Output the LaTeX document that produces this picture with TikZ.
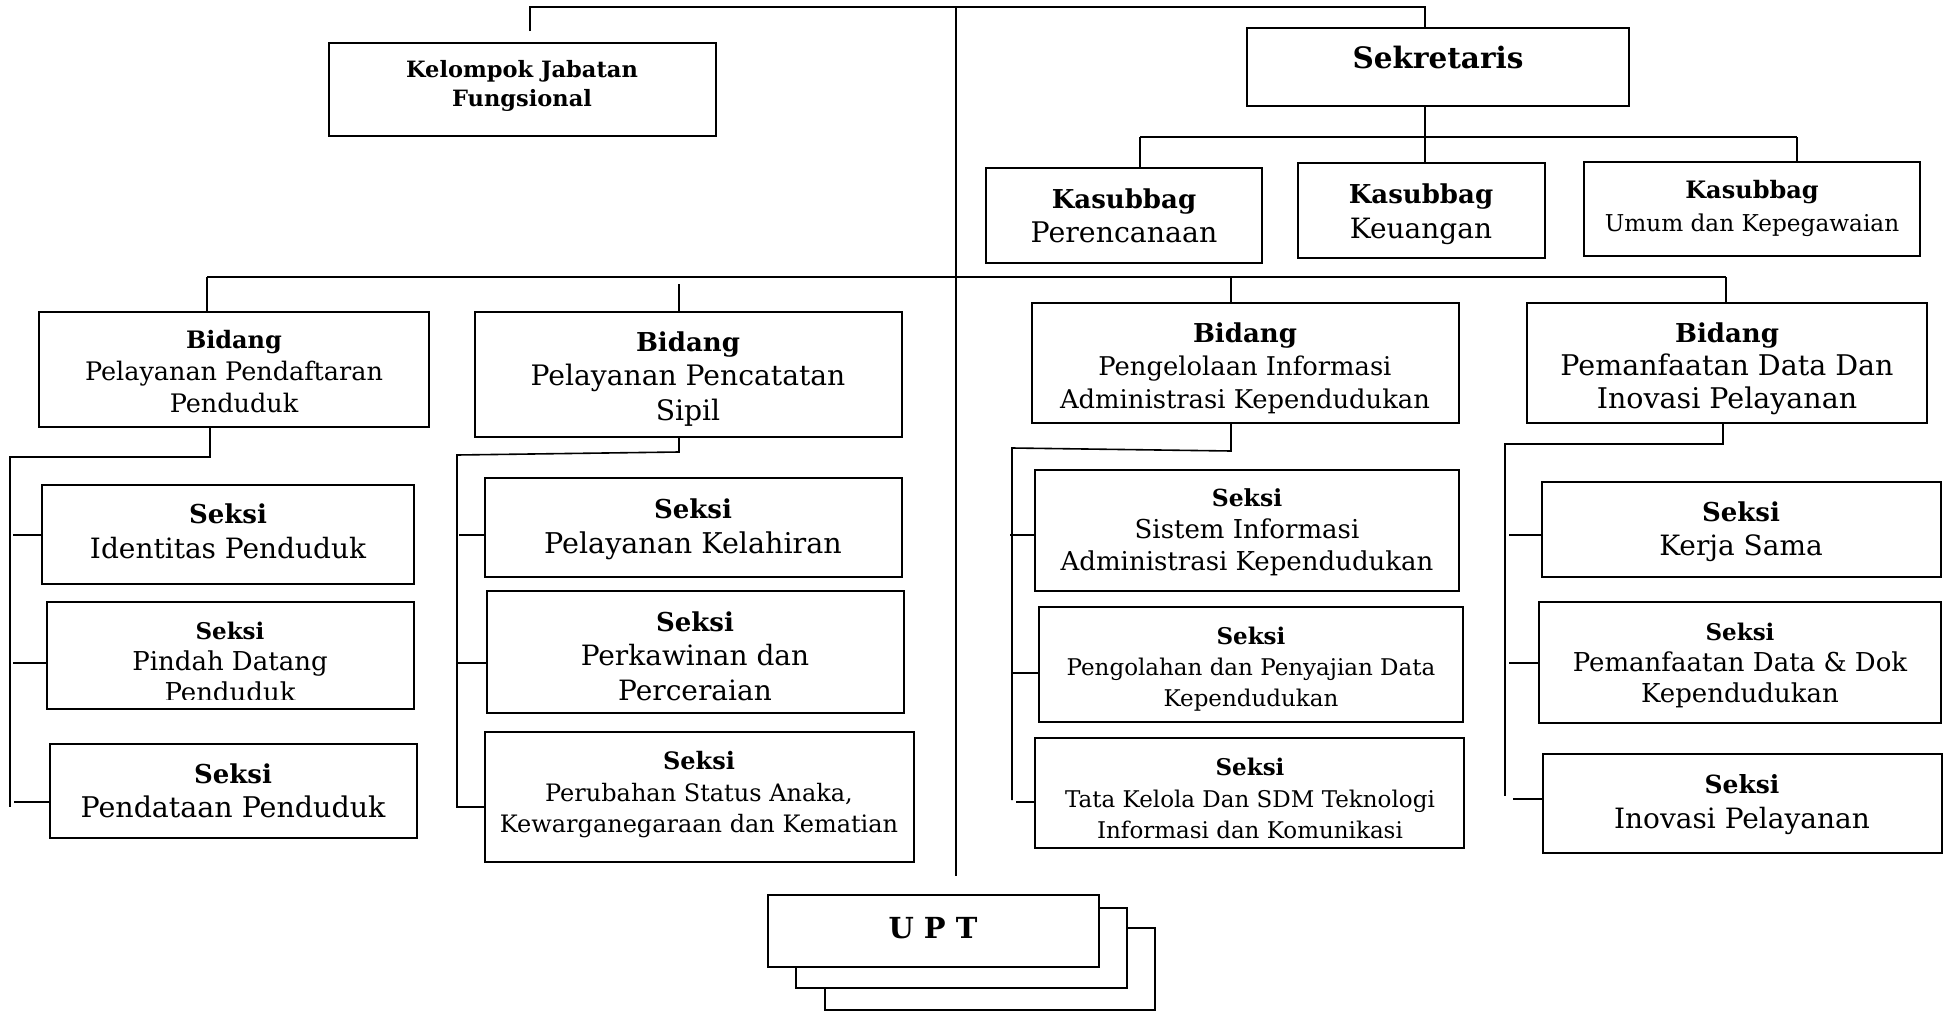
\documentclass[tikz,border=0pt]{standalone}
\usepackage{fontspec}
\setmainfont{DejaVu Serif}
\usetikzlibrary{fit}
\newcommand\fs[2]{\fontsize{#1}{#2}\selectfont}
\begin{document}
\begin{tikzpicture}[x=0.5pt,y=-0.5pt,
  box/.style={draw, line width=1.1pt, inner sep=0pt, rectangle},
  ubox/.style={box, fill=white},
  txt/.style={align=center, inner sep=0pt, execute at begin node=\strut, execute at end node=\strut},
  conn/.style={line width=0.8pt}]
\useasboundingbox (0,0) rectangle (1945,1012);

% ---- boxes ----
\node[box, fit={(329,43) (716,136)}] (kjf) {};
\node[box, fit={(1247,28) (1629,106)}] (sek) {};
\node[box, fit={(986,168) (1262,263)}] (per) {};
\node[box, fit={(1298,163) (1545,258)}] (keu) {};
\node[box, fit={(1584,162) (1920,256)}] (umu) {};
\node[box, fit={(39,312) (429,427)}] (b1) {};
\node[box, fit={(475,312) (902,437)}] (b2) {};
\node[box, fit={(1032,303) (1459,423)}] (b3) {};
\node[box, fit={(1527,303) (1927,423)}] (b4) {};
\node[box, fit={(42,485) (414,584)}] (s11) {};
\node[box, fit={(47,602) (414,709)}] (s12) {};
\node[box, fit={(50,744) (417,838)}] (s13) {};
\node[box, fit={(485,478) (902,577)}] (s21) {};
\node[box, fit={(487,591) (904,713)}] (s22) {};
\node[box, fit={(485,732) (914,862)}] (s23) {};
\node[box, fit={(1035,470) (1459,591)}] (s31) {};
\node[box, fit={(1039,607) (1463,722)}] (s32) {};
\node[box, fit={(1035,738) (1464,848)}] (s33) {};
\node[box, fit={(1542,482) (1941,577)}] (s41) {};
\node[box, fit={(1539,602) (1941,723)}] (s42) {};
\node[box, fit={(1543,754) (1942,853)}] (s43) {};
\node[ubox, fit={(825,928) (1155,1010)}] (u3) {};
\node[ubox, fit={(796,908) (1127,988)}] (u2) {};
\node[ubox, fit={(768,895) (1099,967)}] (u1) {};

% ---- texts ----
\node[txt, font=\bfseries\fs{11.25}{14.5}] (kjft) at (522,88) {Kelompok Jabatan\\Fungsional};
\node[txt, font=\bfseries\fs{14.75}{17}] (sekt) at (1438,62) {Sekretaris};
\node[txt, font=\fs{14.2}{17}] (pert) at (1124,221) {{\bfseries\fs{13}{17}Kasubbag}\\Perencanaan};
\node[txt, font=\fs{14}{17.5}] (keut) at (1421,216) {{\bfseries\fs{13}{17.5}Kasubbag}\\Keuangan};
\node[txt, font=\fs{11.6}{16.5}] (umut) at (1752,211) {{\bfseries\fs{12}{16.5}Kasubbag}\\Umum dan Kepegawaian};

\node[txt, font=\fs{12.75}{16}] (b1t) at (234,376) {{\bfseries\fs{12}{16}Bidang}\\Pelayanan Pendaftaran\\Penduduk};
\node[txt, font=\fs{14.1}{17.25}] (b2t) at (688,381) {{\bfseries\fs{13}{17.25}Bidang}\\Pelayanan Pencatatan\\Sipil};
\node[txt, font=\fs{12.9}{16.5}] (b3t) at (1245,371) {{\bfseries\fs{13}{16.5}Bidang}\\Pengelolaan Informasi\\Administrasi Kependudukan};
\node[txt, font=\fs{14.25}{16.5}] (b4t) at (1727,371) {{\bfseries\fs{13}{16.5}Bidang}\\Pemanfaatan Data Dan\\Inovasi Pelayanan};

\node[txt, font=\fs{14}{17.5}] (s11t) at (228,536) {{\bfseries\fs{13}{17.5}Seksi}\\Identitas Penduduk};
\begin{scope}
\clip (47,602) rectangle (414,699);
\node[txt, font=\fs{13}{15.5}] (s12t) at (230,666) {{\bfseries\fs{11.5}{15.5}Seksi}\\Pindah Datang\\Penduduk};
\end{scope}
\node[txt, font=\fs{14.25}{17}] (s13t) at (233,796) {{\bfseries\fs{13}{17}Seksi}\\Pendataan Penduduk};

\node[txt, font=\fs{14.3}{17.5}] (s21t) at (693,531) {{\bfseries\fs{13}{17.5}Seksi}\\Pelayanan Kelahiran};
\node[txt, font=\fs{14}{17.25}] (s22t) at (695,661) {{\bfseries\fs{13}{17.25}Seksi}\\Perkawinan dan\\Perceraian};
\node[txt, font=\fs{12}{15.75}] (s23t) at (699,797) {{\bfseries\fs{12}{15.75}Seksi}\\Perubahan Status Anaka,\\Kewarganegaraan dan Kematian};

\node[txt, font=\fs{13}{16}] (s31t) at (1247,534) {{\bfseries\fs{11.75}{16}Seksi}\\Sistem Informasi\\Administrasi Kependudukan};
\node[txt, font=\fs{11.5}{15.5}] (s32t) at (1251,671) {{\bfseries\fs{11.5}{15.5}Seksi}\\Pengolahan dan Penyajian Data\\Kependudukan};
\node[txt, font=\fs{11.5}{15.75}] (s33t) at (1250,803) {{\bfseries\fs{11.5}{15.75}Seksi}\\Tata Kelola Dan SDM Teknologi\\Informasi dan Komunikasi};

\node[txt, font=\fs{14}{17}] (s41t) at (1741,534) {{\bfseries\fs{13}{17}Seksi}\\Kerja Sama};
\node[txt, font=\fs{13}{15.5}] (s42t) at (1740,667) {{\bfseries\fs{11.5}{15.5}Seksi}\\Pemanfaatan Data \& Dok\\Kependudukan};
\node[txt, font=\fs{14}{17.5}] (s43t) at (1742,807) {{\bfseries\fs{12.5}{17.5}Seksi}\\Inovasi Pelayanan};

\node[txt, font=\bfseries\fs{14.5}{17}] (u1t) at (933,932) {U P T};

% ---- connectors ----
\coordinate (tl) at (530,7);
\coordinate (tm) at (956,7);
\coordinate (tr) at (1425,7);
\coordinate (kjfstub) at (530,31);
\coordinate (trunkend) at (956,876);
\draw[conn] (kjfstub) -- (tl) -- (tr) -- (tr |- sek.north);
\draw[conn] (tm) -- (trunkend);

% Sekretaris to Kasubbag
\coordinate (kbl) at (1140,137);
\coordinate (kbm) at (1425,137);
\coordinate (kbr) at (1797,137);
\draw[conn] (kbm |- sek.south) -- (kbm |- keu.north);
\draw[conn] (kbl) -- (kbr);
\draw[conn] (kbl) -- (kbl |- per.north);
\draw[conn] (kbr) -- (kbr |- umu.north);

% Bidang bus
\coordinate (bbl) at (207,277);
\coordinate (bbr) at (1726,277);
\coordinate (bb2) at (679,284);
\coordinate (bb3) at (1231,277);
\draw[conn] (bbl) -- (bbr);
\draw[conn] (bbl) -- (bbl |- b1.north);
\draw[conn] (bb2) -- (bb2 |- b2.north);
\draw[conn] (bb3) -- (bb3 |- b3.north);
\draw[conn] (bbr) -- (bbr |- b4.north);

% Bidang 1 sections
\coordinate (c1a) at (210,457);
\coordinate (c1b) at (10,457);
\coordinate (c1c) at (10,807);
\draw[conn] (c1a |- b1.south) -- (c1a) -- (c1b) -- (c1c);
\coordinate (t11) at (13,535);
\coordinate (t12) at (13,663);
\coordinate (t13) at (14,802);
\draw[conn] (t11) -- (t11 -| s11.west);
\draw[conn] (t12) -- (t12 -| s12.west);
\draw[conn] (t13) -- (t13 -| s13.west);

% Bidang 2 sections
\coordinate (c2a) at (679,452);
\coordinate (c2b) at (457,455);
\coordinate (c2c) at (457,807);
\draw[conn] (c2a |- b2.south) -- (c2a) -- (c2b) -- (c2c) -- (c2c -| s23.west);
\coordinate (t21) at (459,535);
\coordinate (t22) at (457,663);
\draw[conn] (t21) -- (t21 -| s21.west);
\draw[conn] (t22) -- (t22 -| s22.west);

% Bidang 3 sections
\coordinate (c3a) at (1231,451);
\coordinate (c3b) at (1012,448);
\coordinate (c3c) at (1012,800);
\draw[conn] (c3a |- b3.south) -- (c3a) -- (c3b) -- (c3c);
\coordinate (t31) at (1010,535);
\coordinate (t32) at (1012,673);
\coordinate (t33) at (1016,802);
\draw[conn] (t31) -- (t31 -| s31.west);
\draw[conn] (t32) -- (t32 -| s32.west);
\draw[conn] (t33) -- (t33 -| s33.west);

% Bidang 4 sections
\coordinate (c4a) at (1723,444);
\coordinate (c4b) at (1505,444);
\coordinate (c4c) at (1505,796);
\draw[conn] (c4a |- b4.south) -- (c4a) -- (c4b) -- (c4c);
\coordinate (t41) at (1509,535);
\coordinate (t42) at (1509,663);
\coordinate (t43) at (1513,799);
\draw[conn] (t41) -- (t41 -| s41.west);
\draw[conn] (t42) -- (t42 -| s42.west);
\draw[conn] (t43) -- (t43 -| s43.west);
\end{tikzpicture}
\end{document}
